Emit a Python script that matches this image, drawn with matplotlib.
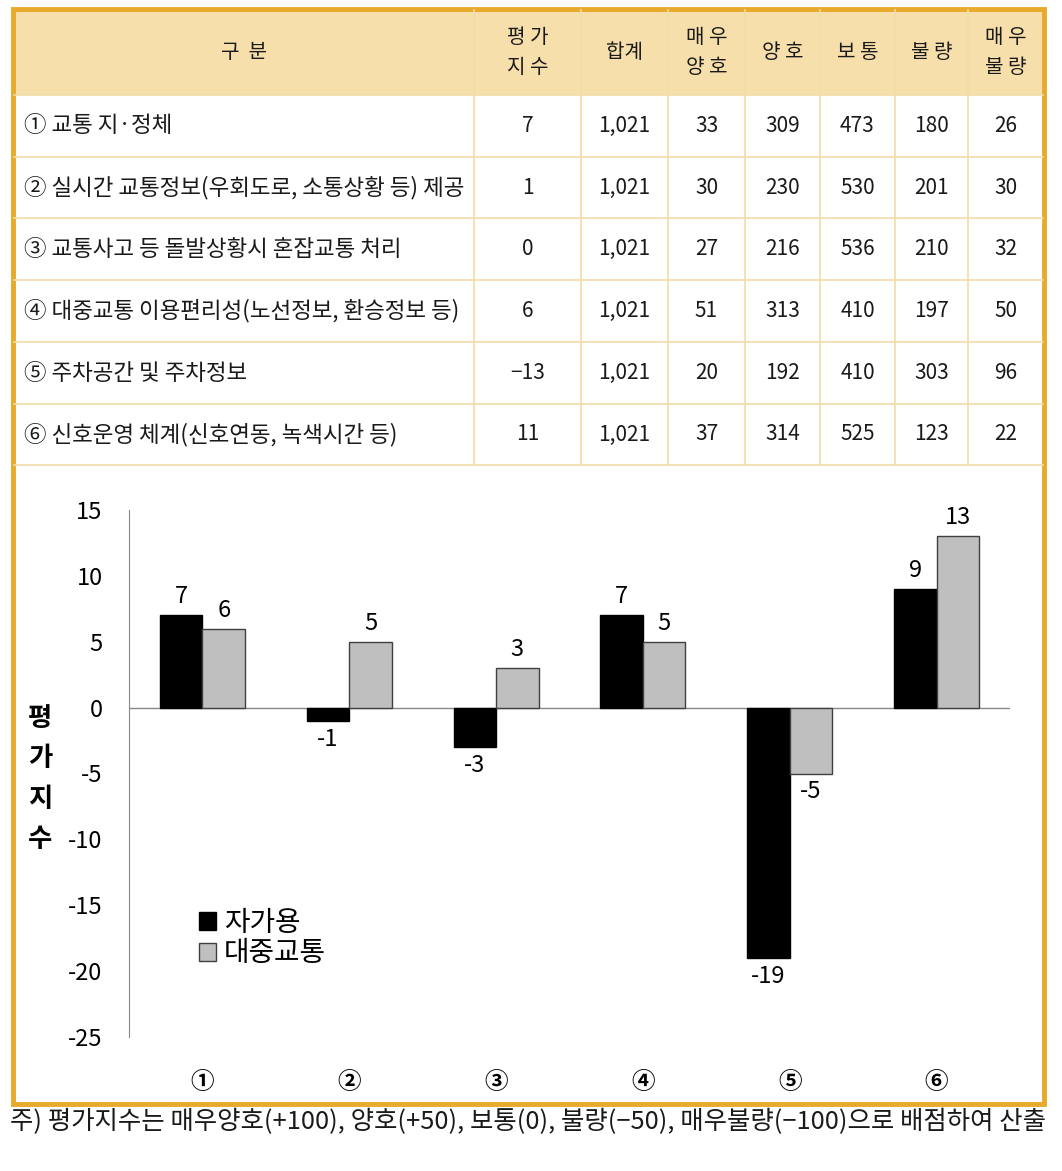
import matplotlib
matplotlib.use("Agg")
import matplotlib.pyplot as plt
from matplotlib.patches import Rectangle
import numpy as np

plt.rcParams['font.family'] = ['Noto Sans CJK KR', 'DejaVu Sans']

# ---------------- data ----------------
header_labels = ["구  분", "평 가\n지 수", "합계", "매 우\n양 호", "양 호", "보 통", "불 량", "매 우\n불 량"]
row_labels = [
    "① 교통 지·정체",
    "② 실시간 교통정보(우회도로, 소통상황 등) 제공",
    "③ 교통사고 등 돌발상황시 혼잡교통 처리",
    "④ 대중교통 이용편리성(노선정보, 환승정보 등)",
    "⑤ 주차공간 및 주차정보",
    "⑥ 신호운영 체계(신호연동, 녹색시간 등)",
]
index_values = ["7", "1", "0", "6", "−13", "11"]
totals = ["1,021"] * 6
very_good = [33, 30, 27, 51, 20, 37]
good = [309, 230, 216, 313, 192, 314]
normal = [473, 530, 536, 410, 410, 525]
bad = [180, 201, 210, 197, 303, 123]
very_bad = [26, 30, 32, 50, 96, 22]

categories = ["①", "②", "③", "④", "⑤", "⑥"]
car_values = [7, -1, -3, 7, -19, 9]          # 자가용
transit_values = [6, 5, 3, 5, -5, 13]        # 대중교통
series_names = ["자가용", "대중교통"]
y_ticks = [15, 10, 5, 0, -5, -10, -15, -20, -25]
y_label = "평가지수"
footnote = "주) 평가지수는 매우양호(+100), 양호(+50), 보통(0), 불량(−50), 매우불량(−100)으로 배점하여 산출"

# ---------------- figure ----------------
W, H = 1062, 1171
fig = plt.figure(figsize=(W / 100, H / 100), dpi=100)
fig.patch.set_facecolor("white")

bg = fig.add_axes([0, 0, 1, 1])
bg.set_xlim(0, W)
bg.set_ylim(H, 0)
bg.axis("off")

ORANGE = "#e8aa2a"
HEAD = "#f7dfab"
GRID = "#f2dca8"
TXT = "#1a1a1a"

left, right = 14, 1043
top, bottom = 10, 1103
col_x = [left, 474, 581, 668, 745, 820, 895, 968, right]
row_y = [top, 95, 157, 218, 280, 342, 404, 465]

# header background
bg.add_patch(Rectangle((left, top), right - left, row_y[1] - top, facecolor=HEAD, edgecolor="none"))
# grid lines
for x in col_x[1:-1]:
    bg.plot([x, x], [top, row_y[-1]], color=GRID, lw=1.2)
for y in row_y[1:]:
    bg.plot([left, right], [y, y], color=GRID, lw=1.2)
# outer border
bg.add_patch(Rectangle((left - 1, top - 1), right - left + 2, bottom - top + 2,
                       facecolor="none", edgecolor=ORANGE, lw=3.5))

# header text
for i, lab in enumerate(header_labels):
    cx = (col_x[i] + col_x[i + 1]) / 2
    cy = (row_y[0] + row_y[1]) / 2
    bg.text(cx, cy, lab, ha="center", va="center", fontsize=14.5, color=TXT,
            linespacing=1.55)

# body
cols = [index_values, totals, very_good, good, normal, bad, very_bad]
for r in range(6):
    cy = (row_y[r + 1] + row_y[r + 2]) / 2
    bg.text(left + 10, cy, row_labels[r], ha="left", va="center", fontsize=16.2, color=TXT)
    for c, colvals in enumerate(cols):
        cx = (col_x[c + 1] + col_x[c + 2]) / 2
        bg.text(cx, cy, str(colvals[r]), ha="center", va="center", fontsize=15, color=TXT)

# footnote
bg.text(left - 4, 1122, footnote, ha="left", va="center", fontsize=18.3, color=TXT)

# ---------------- chart ----------------
ax_left, ax_right = 129, 1010
ax_top, ax_bot = 510, 1037
ax = fig.add_axes([ax_left / W, 1 - ax_bot / H, (ax_right - ax_left) / W, (ax_bot - ax_top) / H])
ax.patch.set_alpha(0)

x = np.arange(len(categories))
bw = 0.29
b1 = ax.bar(x - bw / 2, car_values, bw, color="black", edgecolor="black", lw=1,
            label=series_names[0], zorder=3)
b2 = ax.bar(x + bw / 2, transit_values, bw, color="#bfbfbf", edgecolor="#404040", lw=1,
            label=series_names[1], zorder=3)

ax.set_xlim(-0.5, len(categories) - 0.5)
ax.set_ylim(-25, 15)
ax.axhline(0, color="#888888", lw=1, zorder=2)
for s in ["top", "right", "bottom"]:
    ax.spines[s].set_visible(False)
ax.spines["left"].set_color("#888888")
ax.set_yticks(y_ticks)
ax.set_yticklabels([str(t) for t in y_ticks], fontsize=17)
ax.tick_params(axis="y", length=0, pad=19)
ax.set_xticks(x)
ax.set_xticklabels(categories, fontsize=17, fontweight="bold")
ax.tick_params(axis="x", length=0, pad=24)

for bars, vals in ((b1, car_values), (b2, transit_values)):
    for b, v in zip(bars, vals):
        xc = b.get_x() + b.get_width() / 2
        if v >= 0:
            ax.annotate(str(v), (xc, v), xytext=(0, 5), textcoords="offset points",
                        ha="center", va="bottom", fontsize=17)
        else:
            ax.annotate(str(v), (xc, v), xytext=(0, -5), textcoords="offset points",
                        ha="center", va="top", fontsize=17)

# y label stacked vertically
fig.text(40 / W, 1 - 779 / H, "\n".join(y_label), ha="center", va="center",
         fontsize=19, fontweight="bold", linespacing=1.62)

leg = ax.legend(loc="upper left", bbox_to_anchor=(0.067, 0.266), frameon=False,
                fontsize=20, handlelength=0.6, handleheight=0.6, handletextpad=0.3,
                labelspacing=0.02, borderaxespad=0)

fig.savefig("out.png", dpi=100, facecolor="white")
